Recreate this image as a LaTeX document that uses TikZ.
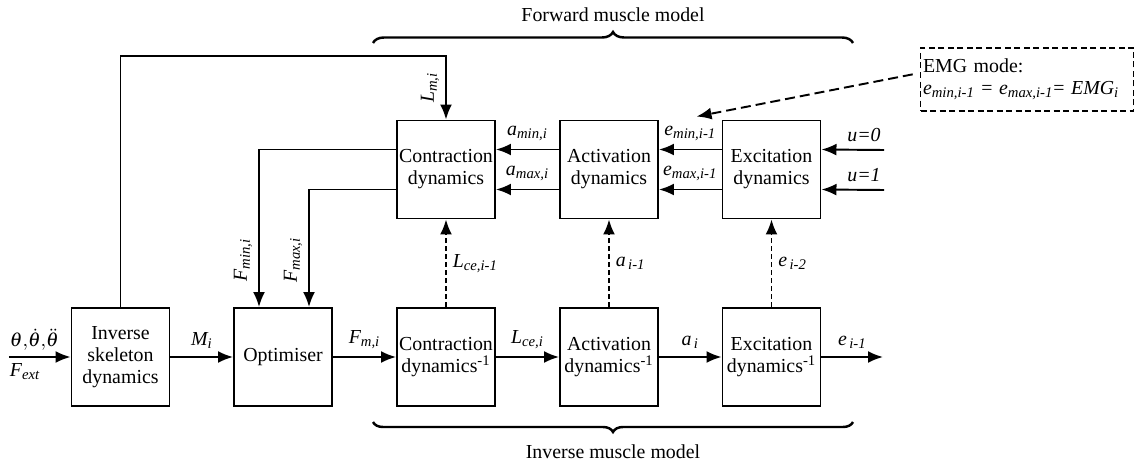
\documentclass[tikz,border=0pt]{standalone}
\usepackage{mathptmx}
\usepackage{fontspec}
\setmainfont{Liberation Serif}
\usetikzlibrary{arrows.meta,decorations.pathreplacing,calc}
\newcommand{\sig}[2]{\textit{#1\textsubscript{#2}}}

\begin{document}
\begin{tikzpicture}[font=\fontsize{11.3}{12.5}\selectfont, line width=1.1pt,
    >={Latex[length=3mm,width=2.4mm]},
    block/.style={draw, minimum width=1.96cm, minimum height=1.96cm, inner sep=1pt, align=center},
    feed/.style={dash pattern=on 0.1cm off 0.06cm},
    lbl/.style={above=1pt}]
\useasboundingbox (0,0) rectangle (22.72,9.32);
% inverse chain
\node[block] (skel) at (2.41,2.18) {Inverse\\skeleton\\dynamics};
\node[block] (opt) at (5.66,2.18) {Optimiser};
\node[block] (cinv) at (8.92,2.18) {Contraction\\dynamics\textsuperscript{-1}};
\node[block] (ainv) at (12.18,2.18) {Activation\\dynamics\textsuperscript{-1}};
\node[block] (einv) at (15.43,2.18) {Excitation\\dynamics\textsuperscript{-1}};
% forward chain
\node[block] (cfw) at (8.92,5.93) {Contraction\\dynamics};
\node[block] (afw) at (12.18,5.93) {Activation\\dynamics};
\node[block] (efw) at (15.43,5.93) {Excitation\\dynamics};
\node[draw, dash pattern=on 0.12cm off 0.07cm, text width=4.16cm, inner xsep=0.05cm,
      minimum height=1.26cm, align=left] (emg) at (20.54,7.73)
      {EMG mode:\\\sig{e}{min,i-1} = \sig{e}{max,i-1}=~\textit{EMG}\textsubscript{\textit{i}}};
\coordinate (in) at (0.18,2.18);
\coordinate (out) at (17.66,2.18);
\coordinate (u0) at (17.68,6.32);
\coordinate (u1) at (17.68,5.52);
\coordinate (emgtip) at ($(efw.north west)+(-0.5,0.06)$);

\draw[->] (in) -- (skel.west)
    node[pos=0, above right, inner xsep=0pt] {$\theta{,}\dot{\theta}{,}\ddot{\theta}$}
    node[pos=0, below right, inner xsep=0pt] {\sig{F}{ext}};
\draw[->] (skel) -- (opt) node[midway, lbl] {\sig{M}{i}};
\draw[->] (opt) -- (cinv) node[midway, lbl] {\sig{F}{m,i}};
\draw[->] (cinv) -- (ainv) node[midway, lbl] {\sig{L}{ce,i}};
\draw[->] (ainv) -- (einv) node[midway, lbl] {\sig{a}{\,i}};
\draw[->] (einv) -- (out) node[midway, lbl] {\sig{e}{\,i-1}};

\draw[->] ([yshift=0.4cm]afw.west) -- ([yshift=0.4cm]cfw.east) node[midway, lbl] {\sig{a}{min,i}};
\draw[->] ([yshift=-0.4cm]afw.west) -- ([yshift=-0.4cm]cfw.east) node[midway, lbl] {\sig{a}{max,i}};
\draw[->] ([yshift=0.4cm]efw.west) -- ([yshift=0.4cm]afw.east) node[midway, lbl] {\sig{e}{min,i-1}};
\draw[->] ([yshift=-0.4cm]efw.west) -- ([yshift=-0.4cm]afw.east) node[midway, lbl] {\sig{e}{max,i-1}};
\draw[->] (u0) -- ([yshift=0.4cm]efw.east) node[pos=0.32, lbl] {\textit{u=0}};
\draw[->] (u1) -- ([yshift=-0.4cm]efw.east) node[pos=0.32, lbl] {\textit{u=1}};
\draw[->, dash pattern=on 0.2cm off 0.1cm, shorten <=0.14cm] ([yshift=0.13cm]emg.west) -- (emgtip);

% feedback to optimiser
\draw[->] ([yshift=0.4cm]cfw.west) -| ([xshift=-0.48cm]opt.north)
    node[pos=0.85, rotate=90, anchor=south] {\sig{F}{min,i}};
\draw[->] ([yshift=-0.4cm]cfw.west) -| ([xshift=0.52cm]opt.north)
    node[pos=0.8, rotate=90, anchor=south] {\sig{F}{max,i}};
\draw[->] (skel.north) -- ++(0,5.02) -| (cfw.north)
    node[pos=0.75, rotate=90, anchor=south] {\sig{L}{m,i}};

% previous step values
\draw[->, feed] (cinv) -- (cfw) node[midway, right] {\sig{L}{ce,i-1}};
\draw[->, feed] (ainv) -- (afw) node[midway, right] {\sig{a}{\,i-1}};
\draw[->, feed] (einv) -- (efw) node[midway, right] {\sig{e}{\,i-2}};

% braces
\draw[decorate, decoration={brace, amplitude=0.22cm}, line width=1.4pt] (7.46,8.46) -- (17.06,8.46);
\node (fwd) at (12.26,9.02) {Forward muscle model};
\draw[decorate, decoration={brace, amplitude=0.2cm}, line width=1.4pt] (17.06,0.88) -- (7.46,0.88);
\node (inv) at (12.26,0.28) {Inverse muscle model};
\end{tikzpicture}
\end{document}
